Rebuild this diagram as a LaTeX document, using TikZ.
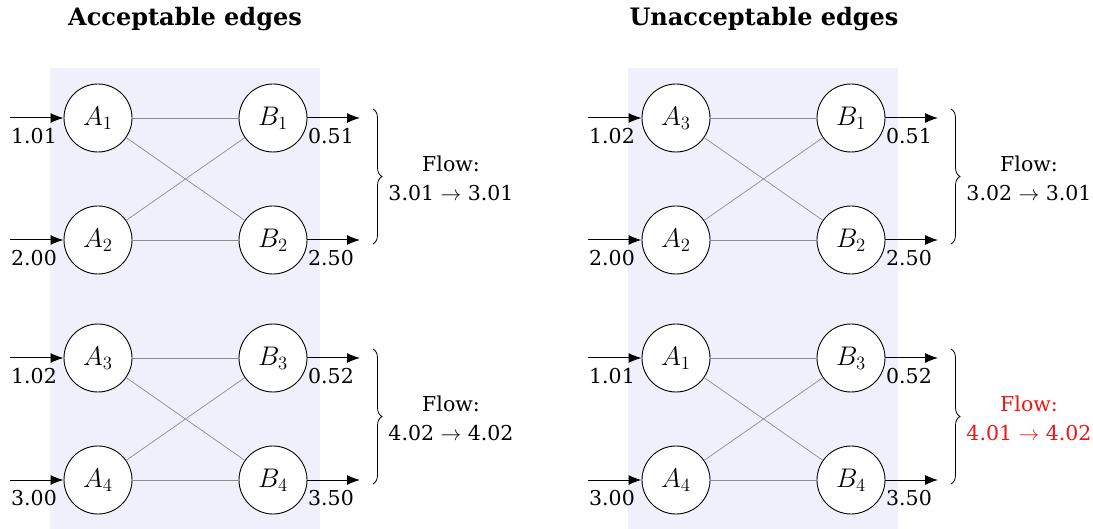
\documentclass[tikz,border=0pt]{standalone}
\usepackage{graphicx}
\usepackage{fontspec}
\setmainfont{DejaVu Serif}
\usetikzlibrary{decorations.pathreplacing,arrows.meta}
\definecolor{panelbg}{RGB}{240,240,252}
\definecolor{flowred}{RGB}{240,20,20}
\newcommand\bignode[1]{\scalebox{1.3}{$#1$}}
\tikzset{
 vert/.style={circle,draw,line width=0.9pt,fill=white,minimum size=68pt,inner sep=0pt,font=\fontsize{20.74}{22}\selectfont},
 edgeline/.style={draw=black!45,line width=0.7pt},
 flowarrow/.style={-{Latex[length=13pt,width=10pt]},line width=1pt},
 numlabel/.style={font=\fontsize{20.5}{22}\selectfont,inner sep=0pt},
 flowlabel/.style={font=\fontsize{20.5}{29}\selectfont,align=center,inner sep=0pt},
 bracestyle/.style={decorate,decoration={brace,amplitude=9pt},line width=0.8pt},
 titlelabel/.style={font=\fontsize{24}{28}\selectfont\bfseries,inner sep=0pt,anchor=base},
 panelbox/.style={fill=panelbg,draw=none}
}
% id, xoff, ytop, Atop, Abot, Btop, Bbot
\newcommand\pairnodes[7]{%
 \node[vert] (#1-a1) at (98+#2,#3) {\bignode{A_{#4}}};
 \node[vert] (#1-a2) at (98+#2,#3+122) {\bignode{A_{#5}}};
 \node[vert] (#1-b1) at (273+#2,#3) {\bignode{B_{#6}}};
 \node[vert] (#1-b2) at (273+#2,#3+122) {\bignode{B_{#7}}};
 \coordinate (#1-i1) at (10+#2,#3);
 \coordinate (#1-i2) at (10+#2,#3+122);
 \coordinate (#1-o1) at (360+#2,#3);
 \coordinate (#1-o2) at (360+#2,#3+122);
 \coordinate (#1-bt) at (373+#2,#3-9);
 \coordinate (#1-bb) at (373+#2,#3+126);
 \draw[edgeline] (#1-a1) -- (#1-b1);
 \draw[edgeline] (#1-a1) -- (#1-b2);
 \draw[edgeline] (#1-a2) -- (#1-b1);
 \draw[edgeline] (#1-a2) -- (#1-b2);
 \draw[flowarrow] (#1-i1) -- (#1-a1);
 \draw[flowarrow] (#1-i2) -- (#1-a2);
 \draw[flowarrow] (#1-b1) -- (#1-o1);
 \draw[flowarrow] (#1-b2) -- (#1-o2);
 \draw[bracestyle] (#1-bt) -- (#1-bb);
}
% id, xoff, ytop, in1, in2, out1, out2
\newcommand\pairlabels[7]{%
 \node[numlabel] (#1-l1) at (34+#2,#3+18) {#4};
 \node[numlabel] (#1-l2) at (34+#2,#3+140) {#5};
 \node[numlabel] (#1-l3) at (331+#2,#3+18) {#6};
 \node[numlabel] (#1-l4) at (331+#2,#3+140) {#7};
}
\begin{document}
\begin{tikzpicture}[x=1pt,y=-1pt]
\useasboundingbox (0,0) rectangle (1093,529);
\fill[panelbox] (50,68) rectangle (320,529);
\fill[panelbox] (628,68) rectangle (898,529);
\node[titlelabel] (t1) at (185,26) {Acceptable edges};
\node[titlelabel] (t2) at (764,26) {Unacceptable edges};
% left panel
\pairnodes{p}{0}{118}{1}{2}{1}{2}
\pairlabels{p}{0}{118}{1.01}{2.00}{0.51}{2.50}
\node[flowlabel] (pf) at (451,178) {Flow:\\3.01 $\to$ 3.01};
\pairnodes{q}{0}{358}{3}{4}{3}{4}
\pairlabels{q}{0}{358}{1.02}{3.00}{0.52}{3.50}
\node[flowlabel] (qf) at (451,418) {Flow:\\4.02 $\to$ 4.02};
% right panel
\pairnodes{r}{578}{118}{3}{2}{1}{2}
\pairlabels{r}{578}{118}{1.02}{2.00}{0.51}{2.50}
\node[flowlabel] (rf) at (1029,178) {Flow:\\3.02 $\to$ 3.01};
\pairnodes{s}{578}{358}{1}{4}{3}{4}
\pairlabels{s}{578}{358}{1.01}{3.00}{0.52}{3.50}
\node[flowlabel,text=flowred] (sf) at (1029,418) {Flow:\\4.01 $\to$ 4.02};
\end{tikzpicture}
\end{document}
